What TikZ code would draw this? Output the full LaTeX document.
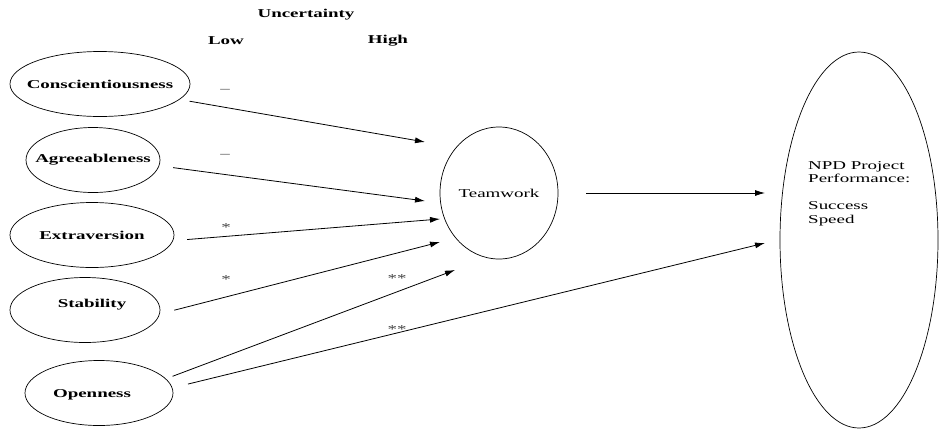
\documentclass[tikz,border=0pt]{standalone}
\usepackage{fontspec}
\setmainfont{Liberation Serif}[FakeStretch=1.58]
\usetikzlibrary{shapes.geometric,arrows.meta}
\begin{document}
\begin{tikzpicture}[x=1pt,y=-1pt,
  every node/.style={font=\fontsize{12}{13.5}\selectfont, text=black},
  hdr/.style={font=\fontsize{12}{13.5}\selectfont\bfseries},
  oval/.style={draw, ellipse, line width=0.7pt, inner sep=0pt},
  trait/.style={oval, minimum height=65pt},
  link/.style={-{Latex[length=10pt,width=6pt]}, line width=0.8pt},
  sig/.style={inner sep=0pt, text height=8pt, text depth=2pt, text=black!75}
]
\fill[white] (0,0) rectangle (940,429);
\useasboundingbox (0,0) rectangle (940,429);

% column headings
\node[hdr] (unc)  at (306,15) {Uncertainty};
\node[hdr] (low)  at (226,41) {Low};
\node[hdr] (high) at (388,41) {High};

% personality traits
\node[trait, minimum width=180pt, label={center:\textbf{Conscientiousness}}] (cons)  at (100,84)  {};
\node[trait, minimum width=134pt, label={center:\textbf{Agreeableness}}]     (agree) at (93,160)  {};
\node[trait, minimum width=164pt, label={center:\textbf{Extraversion}}]      (extra) at (92,235)  {};
\node[trait, minimum width=150pt, label={[xshift=7pt,yshift=5pt]center:\textbf{Stability}}] (stab) at (85,310) {};
\node[trait, minimum width=148pt, label={[xshift=-7pt,yshift=-2pt]center:\textbf{Openness}}] (open) at (99,393) {};

% mediator and outcome
\node[oval, minimum width=118pt, minimum height=132pt, label={center:Teamwork}] (team) at (499,193) {};
\node[oval, minimum width=158pt, minimum height=376pt] (npd) at (859,240) {};
\node[anchor=north west, align=left, inner sep=0pt] (npdtext) at (808,161)
  {NPD Project\\Performance:\\[13.5pt]Success\\Speed};

% arrow end points
\coordinate (t1) at (425,142);
\coordinate (t2) at (425,201);
\coordinate (t3) at (440,219);
\coordinate (t4) at (440,242);
\coordinate (t5) at (455,270);
\coordinate (n1) at (765,193);
\coordinate (n2) at (765,243);

% paths
\draw[link, shorten <=10pt] (cons.-11.8) -- (t1);
\draw[link, shorten <=14pt] (agree.-5)   -- (t2);
\draw[link, shorten <=14pt] (extra.-4)   -- (t3);
\draw[link, shorten <=15pt] (stab.-3)    -- (t4);
\draw[link, shorten <=7pt]  (open.12)    -- (t5);
\draw[link, shorten <=16pt] (open.4)     -- (n2);
\draw[link, shorten <=28pt] (team.east)  -- (n1);

% significance signs
\node[sig] (s1) at (225,89)    {–};
\node[sig] (s2) at (225,154)   {–};
\node[sig] (s3) at (226,228.5) {*};
\node[sig] (s4) at (226,280.5) {*};
\node[sig] (s5) at (397,279.5) {**};
\node[sig] (s6) at (397,330.5) {**};
\end{tikzpicture}
\end{document}
